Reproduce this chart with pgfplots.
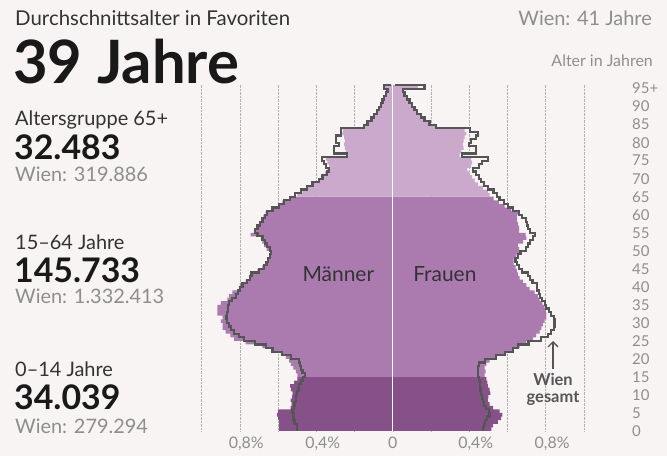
\documentclass[border=0pt]{standalone}
\usepackage{pgfplots}
\pgfplotsset{compat=1.18}
\usepackage{fontspec}
\setmainfont{Lato}
\usetikzlibrary{arrows.meta}

\definecolor{bg}{HTML}{F7F4F3}
\definecolor{ink}{HTML}{333333}
\definecolor{soft}{HTML}{8E8E8E}
\definecolor{old}{HTML}{CBA9CD}
\definecolor{mid}{HTML}{AB7BAF}
\definecolor{young}{HTML}{865088}
\definecolor{wien}{HTML}{555555}

\begin{document}
\begin{tikzpicture}[x=1bp,y=1bp]
\fill[bg] (0,0) rectangle (667,456);

\begin{axis}[
  at={(201.7bp,25bp)}, anchor=south west,
  width=382.3bp, height=346bp, scale only axis,
  xmin=-1, xmax=1, ymin=0, ymax=96,
  axis line style={draw=none},
  major tick length=0pt,
  xtick={-1,-0.8,-0.6,-0.4,-0.2,0,0.2,0.4,0.6,0.8,1},
  xticklabels={,{0,8\rlap{\%}},,{0,4\rlap{\%}},,0,,{0,4\rlap{\%}},,{0,8\rlap{\%}},},
  xmajorgrids,
  grid style={densely dotted, color=black!30, line width=0.6bp},
  xticklabel style={anchor=base, yshift=-18bp, text=soft, font=\fontsize{16}{16}\selectfont},
  ytick={0,5,...,95},
  yticklabels={0,5,10,15,20,25,30,35,40,45,50,55,60,65,70,75,80,85,90,95+},
  yticklabel pos=right,
  yticklabel style={anchor=west, inner sep=0pt, xshift=48bp, text=soft, font=\fontsize{15}{15}\selectfont},
  const plot,
]

% Favoriten, Maenner
\addplot[fill=young, draw=none] coordinates {(0,0) (-0.595,0) (-0.595,1) (-0.595,2) (-0.595,3) (-0.600,4) (-0.607,5) (-0.600,6) (-0.535,7) (-0.530,8) (-0.535,9) (-0.527,10) (-0.525,11) (-0.534,12) (-0.537,13) (-0.517,14) (-0.499,15) (0,15)};
\addplot[fill=mid, draw=none] coordinates {(0,15) (-0.500,15) (-0.500,16) (-0.508,17) (-0.520,18) (-0.534,19) (-0.543,20) (-0.560,21) (-0.586,22) (-0.630,23) (-0.682,24) (-0.770,25) (-0.830,26) (-0.850,27) (-0.875,28) (-0.890,29) (-0.890,30) (-0.900,31) (-0.890,32) (-0.918,33) (-0.918,34) (-0.918,35) (-0.900,36) (-0.866,37) (-0.857,38) (-0.840,39) (-0.805,40) (-0.800,41) (-0.770,42) (-0.752,43) (-0.735,44) (-0.709,45) (-0.683,46) (-0.665,47) (-0.656,48) (-0.644,49) (-0.639,50) (-0.660,51) (-0.674,52) (-0.682,53) (-0.690,54) (-0.744,55) (-0.717,56) (-0.708,57) (-0.695,58) (-0.686,59) (-0.677,60) (-0.665,61) (-0.630,62) (-0.600,63) (-0.578,64) (-0.543,65) (0,65)};
\addplot[fill=old, draw=none] coordinates {(0,65) (-0.500,65) (-0.500,66) (-0.473,67) (-0.447,68) (-0.412,69) (-0.386,70) (-0.368,71) (-0.356,72) (-0.342,73) (-0.333,74) (-0.342,75) (-0.350,76) (-0.240,77) (-0.246,78) (-0.251,79) (-0.255,80) (-0.251,81) (-0.255,82) (-0.264,83) (-0.260,84) (-0.147,85) (-0.124,86) (-0.107,87) (-0.095,88) (-0.080,89) (-0.070,90) (-0.063,91) (-0.054,92) (-0.045,93) (-0.035,94) (-0.028,95) (-0.040,96) (0,96)};

% Favoriten, Frauen
\addplot[fill=young, draw=none] coordinates {(0,0) (0.515,0) (0.515,1) (0.524,2) (0.550,3) (0.567,4) (0.573,5) (0.558,6) (0.524,7) (0.506,8) (0.497,9) (0.500,10) (0.510,11) (0.506,12) (0.497,13) (0.494,14) (0.489,15) (0,15)};
\addplot[fill=mid, draw=none] coordinates {(0,15) (0.480,15) (0.480,16) (0.485,17) (0.480,18) (0.489,19) (0.506,20) (0.541,21) (0.593,22) (0.628,23) (0.663,24) (0.698,25) (0.733,26) (0.750,27) (0.768,28) (0.777,29) (0.785,30) (0.794,31) (0.803,32) (0.803,33) (0.800,34) (0.794,35) (0.782,36) (0.768,37) (0.759,38) (0.742,39) (0.716,40) (0.698,41) (0.680,42) (0.663,43) (0.654,44) (0.649,45) (0.642,46) (0.632,47) (0.632,48) (0.646,49) (0.660,50) (0.660,51) (0.654,52) (0.681,53) (0.698,54) (0.695,55) (0.660,56) (0.660,57) (0.654,58) (0.649,59) (0.649,60) (0.660,61) (0.620,62) (0.585,63) (0.555,64) (0.527,65) (0,65)};
\addplot[fill=old, draw=none] coordinates {(0,65) (0.506,65) (0.506,66) (0.497,67) (0.471,68) (0.445,69) (0.428,70) (0.415,71) (0.401,72) (0.390,73) (0.410,74) (0.415,75) (0.410,76) (0.349,77) (0.358,78) (0.370,79) (0.366,80) (0.370,81) (0.375,82) (0.384,83) (0.375,84) (0.227,85) (0.183,86) (0.169,87) (0.148,88) (0.131,89) (0.122,90) (0.105,91) (0.087,92) (0.073,93) (0.061,94) (0.049,95) (0.131,96) (0,96)};

% Mittellinie
\addplot[white, line width=1bp, sharp plot] coordinates {(0,0) (0,96)};

% Wien gesamt
\addplot[wien, line width=2.2bp] coordinates {(-0.500,0) (-0.500,1) (-0.500,2) (-0.515,3) (-0.520,4) (-0.520,5) (-0.525,6) (-0.517,7) (-0.515,8) (-0.508,9) (-0.508,10) (-0.500,11) (-0.494,12) (-0.490,13) (-0.482,14) (-0.470,15) (-0.460,16) (-0.473,17) (-0.482,18) (-0.485,19) (-0.490,20) (-0.534,21) (-0.578,22) (-0.630,23) (-0.665,24) (-0.720,25) (-0.778,26) (-0.805,27) (-0.831,28) (-0.845,29) (-0.857,30) (-0.866,31) (-0.870,32) (-0.866,33) (-0.862,34) (-0.862,35) (-0.857,36) (-0.840,37) (-0.822,38) (-0.810,39) (-0.800,40) (-0.787,41) (-0.764,42) (-0.748,43) (-0.740,44) (-0.700,45) (-0.674,46) (-0.661,47) (-0.653,48) (-0.644,49) (-0.639,50) (-0.644,51) (-0.660,52) (-0.670,53) (-0.682,54) (-0.708,55) (-0.720,56) (-0.708,57) (-0.695,58) (-0.682,59) (-0.670,60) (-0.657,61) (-0.630,62) (-0.595,63) (-0.569,64) (-0.537,65) (-0.510,66) (-0.482,67) (-0.450,68) (-0.420,69) (-0.386,70) (-0.368,71) (-0.345,72) (-0.333,73) (-0.350,74) (-0.360,75) (-0.370,76) (-0.240,77) (-0.307,78) (-0.307,79) (-0.281,80) (-0.298,81) (-0.298,82) (-0.272,83) (-0.270,84) (-0.150,85) (-0.133,86) (-0.112,87) (-0.098,88) (-0.084,89) (-0.072,90) (-0.063,91) (-0.054,92) (-0.045,93) (-0.035,94) (-0.028,95) (-0.045,96) (-0.012,96)};
\addplot[wien, line width=2.2bp] coordinates {(0.471,0) (0.471,1) (0.475,2) (0.482,3) (0.492,4) (0.506,5) (0.503,6) (0.489,7) (0.475,8) (0.471,9) (0.468,10) (0.462,11) (0.459,12) (0.457,13) (0.454,14) (0.450,15) (0.445,16) (0.445,17) (0.445,18) (0.450,19) (0.480,20) (0.541,21) (0.585,22) (0.628,23) (0.654,24) (0.710,25) (0.777,26) (0.812,27) (0.829,28) (0.841,29) (0.846,30) (0.846,31) (0.841,32) (0.829,33) (0.817,34) (0.803,35) (0.794,36) (0.782,37) (0.771,38) (0.763,39) (0.756,40) (0.754,41) (0.730,42) (0.716,43) (0.707,44) (0.677,45) (0.660,46) (0.649,47) (0.642,48) (0.654,49) (0.668,50) (0.695,51) (0.707,52) (0.719,53) (0.733,54) (0.742,55) (0.719,56) (0.707,57) (0.702,58) (0.695,59) (0.677,60) (0.660,61) (0.628,62) (0.602,63) (0.581,64) (0.558,65) (0.545,66) (0.527,67) (0.497,68) (0.475,69) (0.462,70) (0.450,71) (0.436,72) (0.420,73) (0.450,74) (0.468,75) (0.497,76) (0.363,77) (0.436,78) (0.436,79) (0.398,80) (0.410,81) (0.436,82) (0.445,83) (0.405,84) (0.227,85) (0.192,86) (0.166,87) (0.148,88) (0.126,89) (0.113,90) (0.101,91) (0.087,92) (0.073,93) (0.061,94) (0.052,95) (0.166,96) (0.012,96)};

\node[font=\fontsize{21}{21}\selectfont, text=ink, anchor=base] at (axis cs:-0.285,41.5) {Männer};
\node[font=\fontsize{21}{21}\selectfont, text=ink, anchor=base] at (axis cs:0.272,41.5) {Frauen};
\end{axis}

% Texte links
\begin{scope}[every node/.style={anchor=base west, inner sep=0pt}]
\node[font=\fontsize{20.5}{20.5}\selectfont, text=ink] at (15,430) {Durchschnittsalter in Favoriten};
\node[font=\fontsize{60}{60}\selectfont\bfseries, text=black!90] at (13,372) {39 Jahre};
\node[font=\fontsize{20}{20}\selectfont, text=ink] at (15,330) {Altersgruppe 65+};
\node[font=\fontsize{34}{34}\selectfont\bfseries, text=black!90] at (14,296) {32.483};
\node[font=\fontsize{20}{20}\selectfont, text=soft] at (15,274) {Wien: 319.886};
\node[font=\fontsize{20}{20}\selectfont, text=ink] at (15,206) {15–64 Jahre};
\node[font=\fontsize{34}{34}\selectfont\bfseries, text=black!90] at (14,173) {145.733};
\node[font=\fontsize{20}{20}\selectfont, text=soft] at (15,152) {Wien: 1.332.413};
\node[font=\fontsize{20}{20}\selectfont, text=ink] at (15,79) {0–14 Jahre};
\node[font=\fontsize{34}{34}\selectfont\bfseries, text=black!90] at (14,46) {34.039};
\node[font=\fontsize{20}{20}\selectfont, text=soft] at (15,22) {Wien: 279.294};
\end{scope}

% Texte rechts
\node[anchor=base east, inner sep=0pt, font=\fontsize{20}{20}\selectfont, text=soft] at (652,430) {Wien: 41 Jahre};
\node[anchor=base east, inner sep=0pt, font=\fontsize{16}{16}\selectfont, text=soft] at (653,389) {Alter in Jahren};

% Hinweis Wien gesamt
\draw[wien, line width=1.3bp, -{Straight Barb[length=5bp, width=10bp]}] (553,87) -- (553,115);
\node[anchor=base, inner sep=0pt, font=\fontsize{16.5}{16.5}\selectfont\bfseries, text=wien] at (553,70) {Wien};
\node[anchor=base, inner sep=0pt, font=\fontsize{16.5}{16.5}\selectfont\bfseries, text=wien] at (553,53) {gesamt};

\pgfresetboundingbox
\useasboundingbox (0,0) rectangle (667,456);
\end{tikzpicture}
\end{document}
